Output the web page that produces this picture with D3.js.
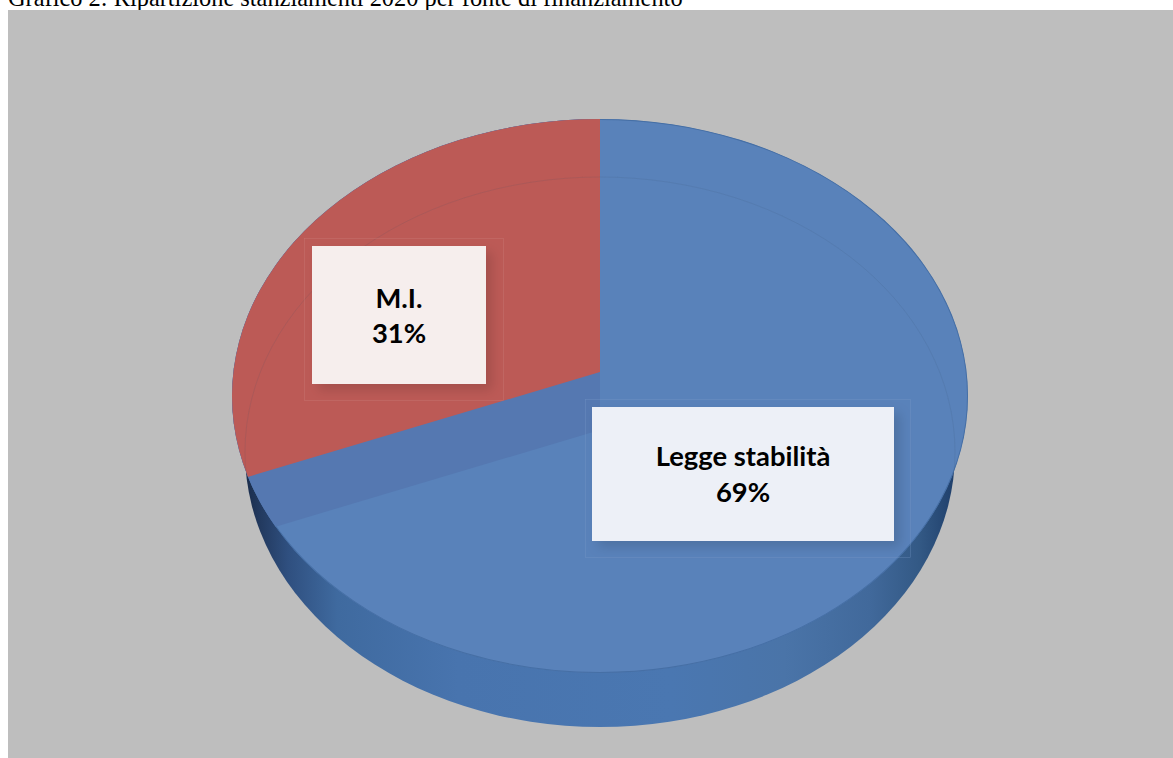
<!DOCTYPE html>
<html>
<head>
<meta charset="utf-8">
<script src="https://cdn.jsdelivr.net/npm/d3@7"></script>
<style>
html,body{margin:0;padding:0;background:#fff;overflow:hidden}
svg{display:block}
</style>
</head>
<body>
<svg id="chart" width="1173" height="758"></svg>
<script>
const titleText = "Grafico 2: Ripartizione stanziamenti 2020 per fonte di finanziamento";
const categories = ["Legge stabilità", "M.I."];
const values = [69, 31];
const sliceColors = ["#5982ba", "#bc5a56"];

const svg = d3.select("#chart");
const defs = svg.append("defs");

const top_ = {cx: 600, cy: 396, rx: 368, ry: 277, apexY: 372};
const bot = {cx: 600, cy: 452, rx: 355, ry: 275};
const depth = 58;

svg.append("text").attr("x", 8).attr("y", 6)
  .attr("font-family", "'Liberation Serif', serif").attr("font-size", 24.4)
  .attr("fill", "#000").text(titleText);

svg.append("rect").attr("x", 8).attr("y", 10).attr("width", 1165).attr("height", 748).attr("fill", "#bebebe");

const sideGrad = defs.append("linearGradient").attr("id", "side")
  .attr("x1", 0).attr("x2", 1).attr("y1", 0).attr("y2", 0);
[[0, "#1a2c4a"], [0.02, "#22395e"], [0.06, "#2f4f7f"], [0.13, "#3f6a9f"], [0.3, "#4874ae"], [0.6, "#4a77b1"],
 [0.76, "#4a74a8"], [0.88, "#41699b"], [0.95, "#335985"], [1, "#1f3f6b"]]
  .forEach(s => sideGrad.append("stop").attr("offset", s[0]).attr("stop-color", s[1]));

const shadow = defs.append("filter").attr("id", "shadow")
  .attr("x", "-15%").attr("y", "-15%").attr("width", "130%").attr("height", "130%");
shadow.append("feDropShadow").attr("dx", 6).attr("dy", 6).attr("stdDeviation", 6)
  .attr("flood-color", "#000").attr("flood-opacity", 0.13);

defs.append("clipPath").attr("id", "topClip").append("ellipse")
  .attr("cx", top_.cx).attr("cy", top_.cy).attr("rx", top_.rx).attr("ry", top_.ry);

// extruded wall
svg.append("ellipse").attr("cx", bot.cx).attr("cy", bot.cy).attr("rx", bot.rx).attr("ry", bot.ry)
  .attr("fill", "url(#side)");

// top face
svg.append("ellipse").attr("cx", top_.cx).attr("cy", top_.cy).attr("rx", top_.rx).attr("ry", top_.ry)
  .attr("fill", sliceColors[0]).attr("stroke", "#466fa5").attr("stroke-width", 2)
  .attr("clip-path", "url(#topClip)");

const pie = d3.pie().sort(null)(values);
const arc = d3.arc().innerRadius(0).outerRadius(1.6);
const sx = top_.rx, sy = top_.ry;
const faces = svg.append("g").attr("clip-path", "url(#topClip)");

// visible cut wall seen through the face
faces.append("path").attr("d", arc(pie[1]))
  .attr("transform", `translate(${top_.cx},${top_.apexY + depth}) scale(${sx},${sy})`)
  .attr("fill", "#5578b1");

// slices
faces.selectAll("path.slice").data([pie[1]]).join("path").attr("class", "slice")
  .attr("d", arc)
  .attr("transform", `translate(${top_.cx},${top_.apexY}) scale(${sx},${sy})`)
  .attr("fill", sliceColors[1]);

// back rim of the base seen through the face
svg.append("ellipse").attr("cx", bot.cx).attr("cy", bot.cy).attr("rx", bot.rx).attr("ry", bot.ry)
  .attr("fill", "none").attr("stroke", "#3d4f6e").attr("stroke-opacity", 0.12).attr("stroke-width", 1)
  .attr("clip-path", "url(#topClip)");

// labels
const labelBoxes = [
  {x: 592, y: 407, w: 302, h: 134, fx: 585, fy: 399, fw: 325, fh: 158, fill: "#edf0f7", frame: "#7f9fcb"},
  {x: 312, y: 246, w: 174, h: 138, fx: 304, fy: 238, fw: 199, fh: 162, fill: "#f6eeed", frame: "#d08a87"}
];
const labels = categories.map((c, i) => [c, values[i] + "%"]);
const baselines = [[466, 502], [308, 343]];

labelBoxes.forEach((b, i) => {
  const g = svg.append("g");
  g.append("rect").attr("x", b.fx + .5).attr("y", b.fy + .5).attr("width", b.fw).attr("height", b.fh)
    .attr("fill", "none").attr("stroke", b.frame).attr("stroke-width", 0.6).attr("stroke-opacity", 0.45);
  g.append("rect").attr("x", b.x).attr("y", b.y).attr("width", b.w).attr("height", b.h)
    .attr("fill", b.fill).attr("filter", "url(#shadow)");
  labels[i].forEach((t, k) => {
    g.append("text").attr("x", b.x + b.w / 2).attr("y", baselines[i][k])
      .attr("text-anchor", "middle").attr("font-family", "Lato, 'Open Sans', sans-serif")
      .attr("font-weight", 700).attr("font-size", 27.4).attr("fill", "#000").text(t);
  });
});
</script>
</body>
</html>
